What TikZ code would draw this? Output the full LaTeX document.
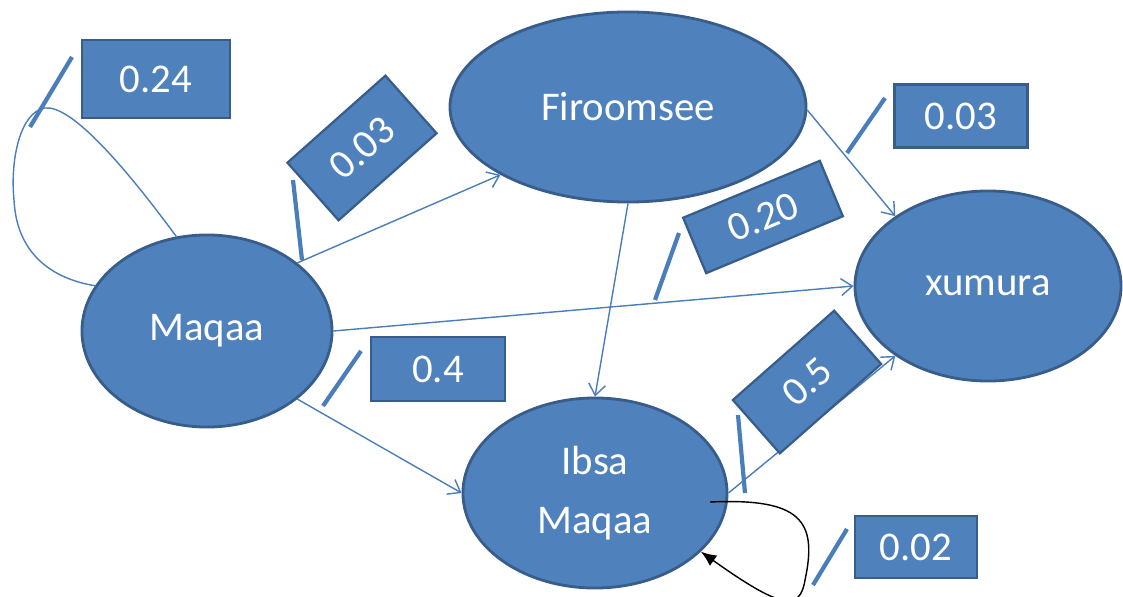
\documentclass[tikz,border=0pt]{standalone}
\usepackage{fontspec}
\setmainfont{Carlito}
\usetikzlibrary{shapes.geometric,arrows.meta}
\definecolor{nodeblue}{HTML}{4F81BD}
\definecolor{rimblue}{HTML}{385D8A}
\definecolor{lineblue}{HTML}{4A7EBB}

\begin{document}
\begin{tikzpicture}[x=0.025cm,y=-0.025cm,>={Straight Barb[length=8pt,width=12pt]},
    state/.style={ellipse,fill=nodeblue,draw=rimblue,line width=2pt,inner sep=0pt,
        text=white,font=\fontsize{29}{42}\selectfont,align=center},
    weight/.style={rectangle,fill=nodeblue,draw=rimblue,line width=1.6pt,inner sep=0pt,
        text=white,font=\fontsize{29}{35}\selectfont},
    link/.style={draw=lineblue,line width=1pt,->},
    slash/.style={draw=lineblue,line width=3pt}]
    \useasboundingbox (0,0) rectangle (1123,597);

    % draw the states
    \node[state,minimum width=6.25cm,minimum height=4.8cm] (maqaa) at (207,331) {Maqaa};
    \node[state,minimum width=8.9cm,minimum height=4.75cm] (firoomsee) at (628,107) {Firoomsee};
    \node[state,minimum width=6.65cm,minimum height=4.75cm] (xumura) at (988,286) {xumura};
    \node[state,minimum width=6.6cm,minimum height=4.75cm] (ibsa) at (595,493) {Ibsa\\Maqaa};

    % transitions between the states
    \draw[link] (maqaa.37) -- (firoomsee.208);
    \draw[link] (maqaa.0) -- (xumura.180);
    \draw[link] (maqaa.-37) -- (ibsa.180);
    \draw[link] (firoomsee.270) -- (ibsa.90);
    \draw[link] (firoomsee.-1) -- (xumura.143);
    \draw[link] (ibsa.0) -- (xumura.217);

    % the loop on Maqaa has no tip
    \draw[draw=lineblue,line width=1pt] (maqaa.108) .. controls (120,160) and (70,105) .. (45,108)
        .. controls (20,112) and (10,160) .. (14,200)
        .. controls (17,260) and (60,280) .. (maqaa.158);
    % the loop on Ibsa Maqaa is black
    \coordinate (loopstart) at (710,502);
    \draw[line width=1pt,-{Latex[length=11pt,width=9pt]}] (loopstart) .. controls (800,498) and (818,520) .. (805,580)
        .. controls (800,612) and (780,608) .. (ibsa.-29);

    % the weights
    \foreach \name/\x/\y/\ang/\w/\h/\val in {
        w24/156/79/0/3.7/1.95/0.24,
        w03a/362/148/41.6/3.275/1.925/0.03,
        w03b/961/116/0/3.325/1.575/0.03,
        w20/763/217/22.6/3.7/1.5/0.20,
        w4/438/369/0/3.35/1.6/0.4,
        w5/807/382/41.4/3.375/1.775/0.5,
        w02/916/547/0/3.05/1.55/0.02}
        \node[weight,rotate=\ang,minimum width=\w cm,minimum height=\h cm] (\name) at (\x,\y) {\val};

    % short strokes next to the weights
    \foreach \xa/\ya/\xb/\yb in {72/57/30/127, 293/180/302/260, 885/98/847/153,
        679/233/655/300, 361/351/323/406, 738/415/745/493, 847/529/813/585}
        \draw[slash] (\xa,\ya) -- (\xb,\yb);
\end{tikzpicture}
\end{document}
